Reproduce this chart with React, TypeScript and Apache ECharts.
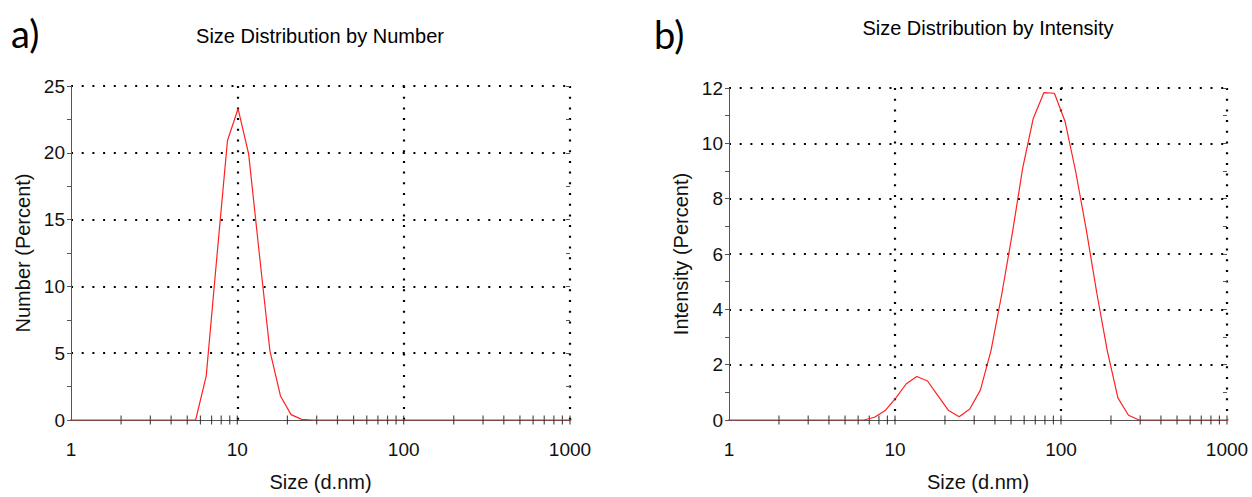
import React, { useEffect, useRef } from "react";
import * as echarts from "echarts";

// Size bins (d.nm)
const sizes = [
  0.9649, 1.117, 1.294, 1.499, 1.736, 2.01, 2.328, 2.696, 3.122, 3.615, 4.187, 4.849,
  5.615, 6.503, 7.531, 8.721, 10.1, 11.7, 13.54, 15.69, 18.17, 21.04, 24.36, 28.21,
  32.67, 37.84, 43.82, 50.75, 58.77, 68.06, 78.82, 91.28, 105.7, 122.4, 141.8, 164.2,
  190.1, 220.2, 255.0, 295.3, 342.0, 396.1, 458.7, 531.2, 615.1, 712.4, 825.0, 955.4, 1106,
];

// Number (Percent)
const numberPct = [
  0, 0, 0, 0, 0, 0, 0, 0, 0, 0, 0, 0,
  0, 3.3, 12.2, 20.9, 23.3, 19.9, 12.5, 5.2, 1.8, 0.4, 0.05, 0,
  0, 0, 0, 0, 0, 0, 0, 0, 0, 0, 0, 0,
  0, 0, 0, 0, 0, 0, 0, 0, 0, 0, 0, 0, 0,
];

// Intensity (Percent)
const intensityPct = [
  0, 0, 0, 0, 0, 0, 0, 0, 0, 0, 0, 0,
  0, 0, 0.1, 0.34, 0.79, 1.31, 1.57, 1.41, 0.87, 0.34, 0.12, 0.4,
  1.08, 2.5, 4.5, 6.7, 9.1, 10.9, 11.83, 11.81, 10.8, 9.0, 6.9, 4.6,
  2.5, 0.8, 0.17, 0, 0, 0, 0, 0, 0, 0, 0, 0, 0,
];

// x-axis tick marks (log decades and sub-decades)
const xTickMarks = [
  2, 3, 4, 5, 6, 7, 8, 9, 10,
  20, 30, 40, 50, 60, 70, 80, 90, 100,
  200, 300, 400, 500, 600, 700, 800, 900, 1000,
];

const panelTitles = ["Size Distribution by Number", "Size Distribution by Intensity"];
const panelLetters = ["a)", "b)"];
const yNames = ["Number (Percent)", "Intensity (Percent)"];
const yMax = [25, 12];
const yInterval = [5, 2];
const xName = "Size (d.nm)";

const FONT = '"Liberation Sans", Arial, sans-serif';
const TEXT = "#111";
const AXIS = "#555";

export default function App() {
  const ref = useRef<HTMLDivElement>(null);

  useEffect(() => {
    document.body.style.margin = "0";
    const chart = echarts.init(ref.current!, null, { renderer: "svg" });

    const grids = [
      { left: 71, top: 86, width: 499, height: 341 },
      { left: 729, top: 88, width: 498, height: 341 },
    ];

    const dotted = { color: "#000", width: 2.2, type: [2, 8.7] as number[] };

    const xAxes = grids.map((_, i) => ({
      gridIndex: i,
      type: "log",
      logBase: 10,
      min: 1,
      max: 1000,
      name: xName,
      nameLocation: "middle",
      nameGap: 52,
      nameTextStyle: { fontSize: 20, color: TEXT, fontFamily: FONT },
      axisLine: { show: true, lineStyle: { color: AXIS, width: 1 } },
      axisTick: { show: false },
      axisLabel: {
        fontSize: 19,
        margin: 20,
        color: TEXT,
        fontFamily: FONT,
        formatter: (v: number) => String(Math.round(v)),
      },
      splitLine: { show: true, showMinLine: false, lineStyle: dotted },
    }));

    const yAxes: any[] = [];
    grids.forEach((_, i) => {
      yAxes.push({
        gridIndex: i,
        type: "value",
        min: 0,
        max: yMax[i],
        interval: yInterval[i],
        name: yNames[i],
        nameLocation: "middle",
        nameGap: 38,
        nameRotate: 90,
        nameTextStyle: { fontSize: 20, color: TEXT, fontFamily: FONT },
        axisLine: { show: true, lineStyle: { color: AXIS, width: 1 } },
        axisTick: { show: true, length: 4, lineStyle: { color: AXIS } },
        minorTick: { show: true, splitNumber: 2, length: 4, lineStyle: { color: AXIS } },
        axisLabel: { fontSize: 19, margin: 6, color: TEXT, fontFamily: FONT },
        splitLine: { show: true, showMinLine: false, lineStyle: dotted },
      });
      yAxes.push({
        gridIndex: i,
        type: "value",
        min: 0,
        max: yMax[i],
        interval: yInterval[i],
        axisLine: { show: false },
        axisTick: { show: true, inside: true, length: 4, lineStyle: { color: AXIS } },
        minorTick: { show: true, splitNumber: 2, length: 4, lineStyle: { color: AXIS } },
        axisLabel: { show: false },
        splitLine: { show: false },
      });
    });

    const valueSets = [numberPct, intensityPct];
    const series: any[] = [];
    grids.forEach((_, i) => {
      series.push({
        type: "scatter",
        xAxisIndex: i,
        yAxisIndex: i * 2,
        data: xTickMarks.map((v) => [v, 0]),
        symbol: "rect",
        symbolSize: [1.2, 9],
        itemStyle: { color: "#222" },
        clip: false,
        silent: true,
        z: 3,
      });
      series.push({
        type: "line",
        xAxisIndex: i,
        yAxisIndex: i * 2,
        data: sizes.map((s, k) => [s, valueSets[i][k]]),
        showSymbol: false,
        lineStyle: { color: "#ff2020", width: 1.2 },
        clip: true,
        silent: true,
        z: 5,
      });
    });

    const textStyle = (text: string, font: string, align: string) => ({
      text,
      font,
      fill: "#000",
      textAlign: align,
      textVerticalAlign: "middle",
      align,
      verticalAlign: "middle",
    });

    const option: any = {
      animation: false,
      backgroundColor: "#fff",
      grid: grids,
      xAxis: xAxes,
      yAxis: yAxes,
      series,
      graphic: [
        { type: "text", x: 11, y: 33, style: textStyle(panelLetters[0], "38px Lato, sans-serif", "left") },
        { type: "text", x: 654, y: 34, style: textStyle(panelLetters[1], "38px Lato, sans-serif", "left") },
        { type: "text", x: 320, y: 36, style: textStyle(panelTitles[0], `20px ${FONT}`, "center") },
        { type: "text", x: 988, y: 28, style: textStyle(panelTitles[1], `20px ${FONT}`, "center") },
      ],
    };

    chart.setOption(option);
    return () => chart.dispose();
  }, []);

  return <div ref={ref} style={{ width: 1252, height: 497 }} />;
}
